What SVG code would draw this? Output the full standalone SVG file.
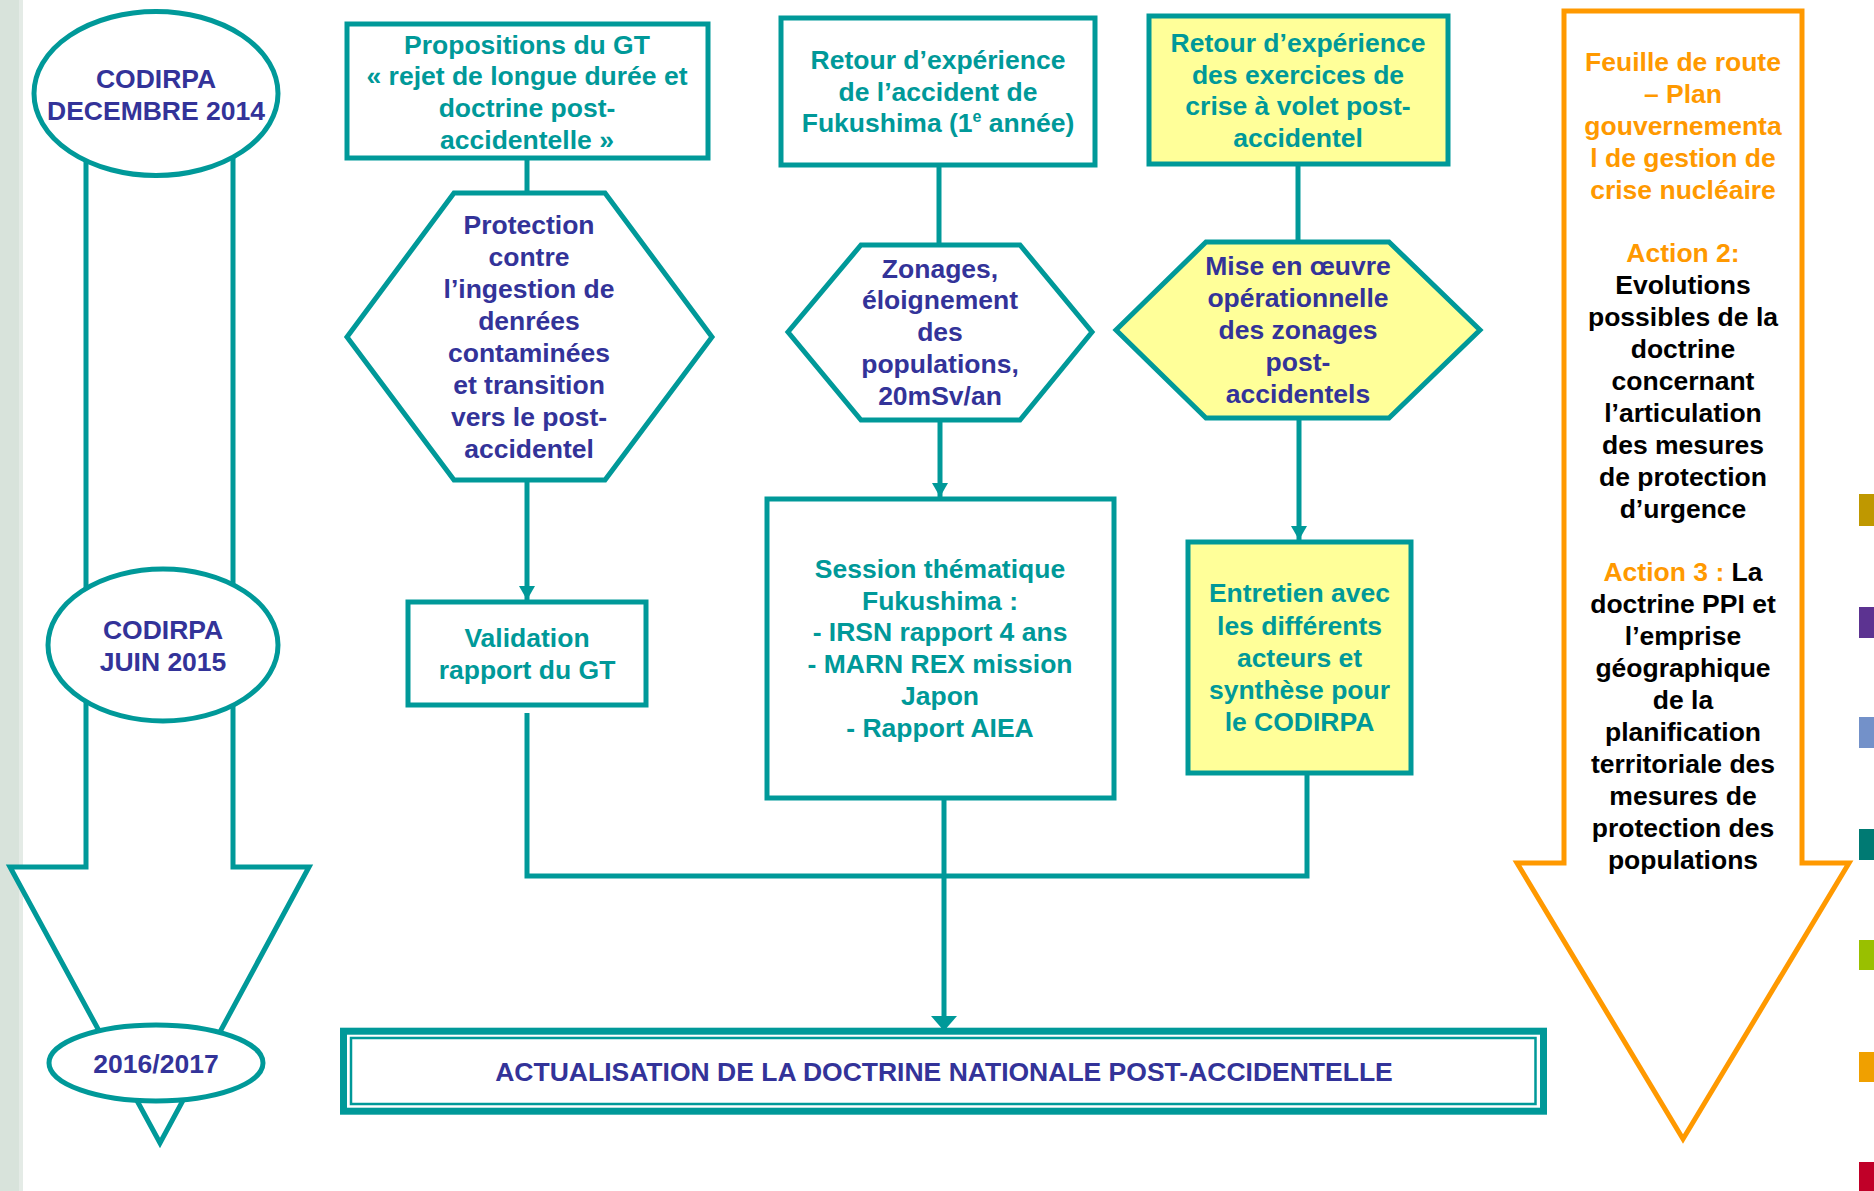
<svg xmlns="http://www.w3.org/2000/svg" width="1874" height="1191" viewBox="0 0 1874 1191">
<defs>
<style>
text{font-family:"Liberation Sans",Arial,sans-serif;font-weight:bold;font-size:26.5px;text-anchor:middle}
.tl{fill:#009999}
.bl{fill:#333399}
.or{fill:#ff9900}
.bk{fill:#000000}
.box{fill:#ffffff;stroke:#009999;stroke-width:5}
.ybox{fill:#ffff99;stroke:#009999;stroke-width:5}
.con{fill:none;stroke:#009999;stroke-width:5}
</style>
<marker id="ah" viewBox="0 0 14 16" refX="14" refY="8" markerWidth="14" markerHeight="16" markerUnits="userSpaceOnUse" orient="auto">
<path d="M0,0 L14,8 L0,16 z" fill="#009999"/>
</marker>
<marker id="ahb" viewBox="0 0 15 26" refX="15" refY="13" markerWidth="15" markerHeight="26" markerUnits="userSpaceOnUse" orient="auto">
<path d="M0,0 L15,13 L0,26 z" fill="#009999"/>
</marker>
</defs>
<rect x="0" y="0" width="1874" height="1191" fill="#ffffff"/>
<rect x="0" y="0" width="23" height="1191" fill="#e4ebe6"/>
<rect x="0" y="0" width="19" height="1191" fill="#d8e3db"/>

<g id="timeline">
<polygon points="86,120 86,867 10,867 160,1143 309,867 233,867 233,120" fill="#ffffff" stroke="#009999" stroke-width="5"/>
</g>
<g id="codirpa-2014">
<ellipse cx="156" cy="93.5" rx="122" ry="82" class="box"/>
<text class="bl" x="156" y="87.5">CODIRPA</text>
<text class="bl" x="156" y="119.5">DECEMBRE 2014</text>
</g>
<g id="codirpa-2015">
<ellipse cx="163" cy="645" rx="115" ry="76" class="box"/>
<text class="bl" x="163" y="639">CODIRPA</text>
<text class="bl" x="163" y="671">JUIN 2015</text>
</g>
<g id="date-2016">
<ellipse cx="156" cy="1063" rx="107" ry="38" class="box"/>
<text class="bl" x="156" y="1073">2016/2017</text>
</g>

<g id="connectors">
<line x1="527" y1="160" x2="527" y2="193" class="con"/>
<line x1="527" y1="480" x2="527" y2="600" class="con" marker-end="url(#ah)"/>
<line x1="939" y1="167" x2="939" y2="245" class="con"/>
<line x1="940" y1="420" x2="940" y2="497" class="con" marker-end="url(#ah)"/>
<line x1="1298" y1="166" x2="1298" y2="242" class="con"/>
<line x1="1299" y1="418" x2="1299" y2="540" class="con" marker-end="url(#ah)"/>
<polyline points="527,713 527,876 1307,876 1307,775" class="con"/>
<line x1="944" y1="800" x2="944" y2="1031" class="con" marker-end="url(#ahb)"/>
</g>

<g id="propositions">
<rect x="347" y="24" width="361" height="134" class="box"/>
<text class="tl" x="527" y="53.5">Propositions du GT</text>
<text class="tl" x="527" y="85">« rejet de longue durée et</text>
<text class="tl" x="527" y="117">doctrine post-</text>
<text class="tl" x="527" y="148.5">accidentelle »</text>
</g>
<g id="protection">
<polygon points="454,193 605,193 712,337 605,480 454,480 347,337" class="box"/>
<text class="bl" x="529" y="234">Protection</text>
<text class="bl" x="529" y="266">contre</text>
<text class="bl" x="529" y="298">l’ingestion de</text>
<text class="bl" x="529" y="330">denrées</text>
<text class="bl" x="529" y="362">contaminées</text>
<text class="bl" x="529" y="394">et transition</text>
<text class="bl" x="529" y="426">vers le post-</text>
<text class="bl" x="529" y="458">accidentel</text>
</g>
<g id="validation">
<rect x="408" y="602" width="238" height="103" class="box"/>
<text class="tl" x="527" y="646.5">Validation</text>
<text class="tl" x="527" y="679">rapport du GT</text>
</g>

<g id="retour-fukushima">
<rect x="781" y="18" width="314" height="147" class="box"/>
<text class="tl" x="938" y="69">Retour d’expérience</text>
<text class="tl" x="938" y="100.5">de l’accident de</text>
<text class="tl" x="938" y="132">Fukushima (1<tspan font-size="16" dy="-10">e</tspan><tspan dy="10"> année)</tspan></text>
</g>
<g id="zonages">
<polygon points="861,245 1020,245 1092,332 1020,420 861,420 788,332" class="box"/>
<text class="bl" x="940" y="277.5">Zonages,</text>
<text class="bl" x="940" y="309">éloignement</text>
<text class="bl" x="940" y="341">des</text>
<text class="bl" x="940" y="373">populations,</text>
<text class="bl" x="940" y="405">20mSv/an</text>
</g>
<g id="session">
<rect x="767" y="499" width="347" height="299" class="box"/>
<text class="tl" x="940" y="577.5">Session thématique</text>
<text class="tl" x="940" y="609.5">Fukushima :</text>
<text class="tl" x="940" y="641">- IRSN rapport 4 ans</text>
<text class="tl" x="940" y="673">- MARN REX mission</text>
<text class="tl" x="940" y="705">Japon</text>
<text class="tl" x="940" y="737">- Rapport AIEA</text>
</g>

<g id="retour-exercices">
<rect x="1149" y="16" width="299" height="148" class="ybox"/>
<text class="tl" x="1298" y="51.5">Retour d’expérience</text>
<text class="tl" x="1298" y="83.5">des exercices de</text>
<text class="tl" x="1298" y="115">crise à volet post-</text>
<text class="tl" x="1298" y="147">accidentel</text>
</g>
<g id="mise-en-oeuvre">
<polygon points="1206,242 1389,242 1480,330 1389,418 1206,418 1116,330" class="ybox"/>
<text class="bl" x="1298" y="275">Mise en œuvre</text>
<text class="bl" x="1298" y="307">opérationnelle</text>
<text class="bl" x="1298" y="339">des zonages</text>
<text class="bl" x="1298" y="370.5">post-</text>
<text class="bl" x="1298" y="402.5">accidentels</text>
</g>
<g id="entretien">
<rect x="1188" y="542" width="223" height="231" class="ybox"/>
<text class="tl" x="1299.5" y="602">Entretien avec</text>
<text class="tl" x="1299.5" y="634.5">les différents</text>
<text class="tl" x="1299.5" y="667">acteurs et</text>
<text class="tl" x="1299.5" y="699">synthèse pour</text>
<text class="tl" x="1299.5" y="731">le CODIRPA</text>
</g>

<g id="actualisation">
<rect x="343.5" y="1031.2" width="1200" height="80" fill="#ffffff" stroke="#009999" stroke-width="7"/>
<rect x="351" y="1038" width="1184.5" height="66" fill="none" stroke="#009999" stroke-width="2.5"/>
<text class="bl" x="944" y="1081">ACTUALISATION DE LA DOCTRINE NATIONALE POST-ACCIDENTELLE</text>
</g>

<g id="feuille-de-route">
<polygon points="1564,11 1802,11 1802,863 1849,863 1683,1139 1517,863 1564,863" fill="#ffffff" stroke="#ff9900" stroke-width="5"/>
<text class="or" x="1683" y="70.5">Feuille de route</text>
<text class="or" x="1683" y="102.5">– Plan</text>
<text class="or" x="1683" y="134.5">gouvernementa</text>
<text class="or" x="1683" y="166.5">l de gestion de</text>
<text class="or" x="1683" y="198.5">crise nucléaire</text>
<text class="or" x="1683" y="262">Action 2:</text>
<text class="bk" x="1683" y="294">Evolutions</text>
<text class="bk" x="1683" y="326">possibles de la</text>
<text class="bk" x="1683" y="358">doctrine</text>
<text class="bk" x="1683" y="390">concernant</text>
<text class="bk" x="1683" y="422">l’articulation</text>
<text class="bk" x="1683" y="454">des mesures</text>
<text class="bk" x="1683" y="486">de protection</text>
<text class="bk" x="1683" y="518">d’urgence</text>
<text class="bk" x="1683" y="581"><tspan class="or">Action 3 : </tspan>La</text>
<text class="bk" x="1683" y="613">doctrine PPI et</text>
<text class="bk" x="1683" y="645">l’emprise</text>
<text class="bk" x="1683" y="677">géographique</text>
<text class="bk" x="1683" y="709">de la</text>
<text class="bk" x="1683" y="741">planification</text>
<text class="bk" x="1683" y="773">territoriale des</text>
<text class="bk" x="1683" y="805">mesures de</text>
<text class="bk" x="1683" y="837">protection des</text>
<text class="bk" x="1683" y="869">populations</text>
</g>

<rect x="1859" y="494" width="15" height="32" fill="#bf9800"/>
<rect x="1859" y="607" width="15" height="31" fill="#5c3391"/>
<rect x="1859" y="717" width="15" height="31" fill="#7391c9"/>
<rect x="1859" y="829" width="15" height="31" fill="#007a73"/>
<rect x="1859" y="940" width="15" height="30" fill="#99c000"/>
<rect x="1859" y="1052" width="15" height="30" fill="#f0a000"/>
<rect x="1859" y="1162" width="15" height="29" fill="#c00028"/>
</svg>
